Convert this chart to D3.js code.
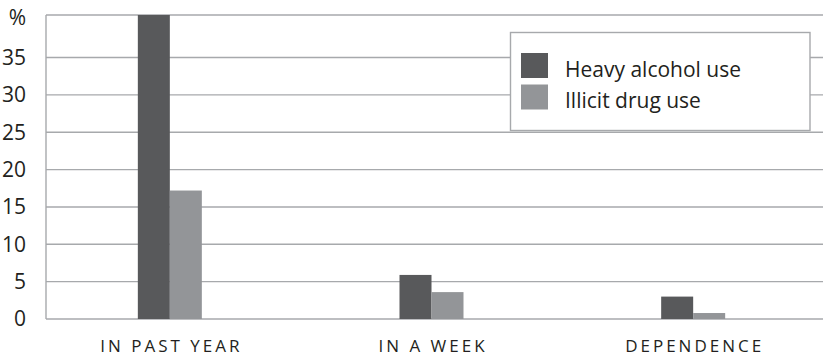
<!DOCTYPE html>
<html>
<head>
<meta charset="utf-8">
<script src="https://cdn.jsdelivr.net/npm/d3@7"></script>
<style>
  html, body { margin: 0; padding: 0; background: #fff; }
  svg { display: block; font-family: "Open Sans", Lato, sans-serif; }
</style>
</head>
<body>
<svg id="chart" width="823" height="356"></svg>
<script>
// Share of respondents (%) by measure
const categories = ["IN PAST YEAR", "IN A WEEK", "DEPENDENCE"];
const seriesNames = ["Heavy alcohol use", "Illicit drug use"];
const heavyAlcohol = [40.7, 5.9, 3.0];
const illicitDrug = [17.2, 3.6, 0.8];
const yTicks = [0, 5, 10, 15, 20, 25, 30, 35];
const yTopLabel = "%";
const yMax = 40.7;

const colors = ["#58595b", "#939598"];
const gridColor = "#a7a9ac";
const textColor = "#231f20";
const font = "'Open Sans', sans-serif";

const svg = d3.select("#chart");

const plot = { left: 46, right: 823, top: 15, bottom: 319 };

const y = d3.scaleLinear().domain([0, yMax]).range([plot.bottom, plot.top]);
const x0 = d3.scaleBand().domain(categories).range([39, 824]).padding(0);
const groupW = 64;
const x1 = d3.scaleBand().domain(seriesNames).range([-groupW / 2, groupW / 2]).padding(0);

// horizontal grid lines, including the top frame line
const gridVals = yTicks.concat([yMax]);
svg.append("g").selectAll("line").data(gridVals).join("line")
  .attr("x1", plot.left).attr("x2", plot.right)
  .attr("y1", d => y(d)).attr("y2", d => y(d))
  .attr("stroke", gridColor).attr("stroke-width", 1.4);

// left axis line
svg.append("line")
  .attr("x1", plot.left).attr("x2", plot.left)
  .attr("y1", plot.top).attr("y2", plot.bottom)
  .attr("stroke", gridColor).attr("stroke-width", 1.4);

// y tick labels
const yAxis = d3.axisLeft(y).tickValues(yTicks).tickSize(0).tickPadding(0);
const yg = svg.append("g").attr("transform", `translate(26,0)`).call(yAxis);
yg.select(".domain").remove();
yg.selectAll("text")
  .attr("font-size", 21).attr("fill", textColor).attr("font-family", font);
svg.append("text")
  .attr("x", 26).attr("y", y(yMax) + 3)
  .attr("text-anchor", "end").attr("dy", "0.32em")
  .attr("font-size", 21).attr("fill", textColor).attr("font-family", font)
  .text(yTopLabel);

// bars
const rows = categories.map((c, i) => ({ cat: c, vals: [heavyAlcohol[i], illicitDrug[i]] }));
const groups = svg.append("g").selectAll("g").data(rows).join("g")
  .attr("transform", d => `translate(${x0(d.cat) + x0.bandwidth() / 2},0)`);
groups.selectAll("rect")
  .data(d => d.vals.map((v, j) => ({ name: seriesNames[j], v, j })))
  .join("rect")
  .attr("x", d => x1(d.name))
  .attr("width", x1.bandwidth())
  .attr("y", d => y(d.v))
  .attr("height", d => y(0) - y(d.v))
  .attr("fill", d => colors[d.j]);

// category labels
svg.append("g").selectAll("text").data(categories).join("text")
  .attr("x", d => x0(d) + x0.bandwidth() / 2 + 1.5)
  .attr("y", 352)
  .attr("text-anchor", "middle")
  .attr("font-size", 17)
  .attr("letter-spacing", 3)
  .attr("fill", textColor)
  .attr("font-family", font)
  .text(d => d);

// legend
const lg = svg.append("g");
lg.append("rect")
  .attr("x", 510.5).attr("y", 32.5).attr("width", 299.5).attr("height", 98)
  .attr("fill", "#fff").attr("stroke", gridColor).attr("stroke-width", 1.4);
const items = lg.selectAll("g.item").data(seriesNames).join("g").attr("class", "item")
  .attr("transform", (d, i) => `translate(521,${53 + i * 31.5})`);
items.append("rect").attr("width", 27).attr("height", 25).attr("fill", (d, i) => colors[i]);
items.append("text")
  .attr("x", 44).attr("y", 23.5)
  .attr("font-size", 21).attr("fill", textColor).attr("font-family", font)
  .text(d => d);
</script>
</body>
</html>
